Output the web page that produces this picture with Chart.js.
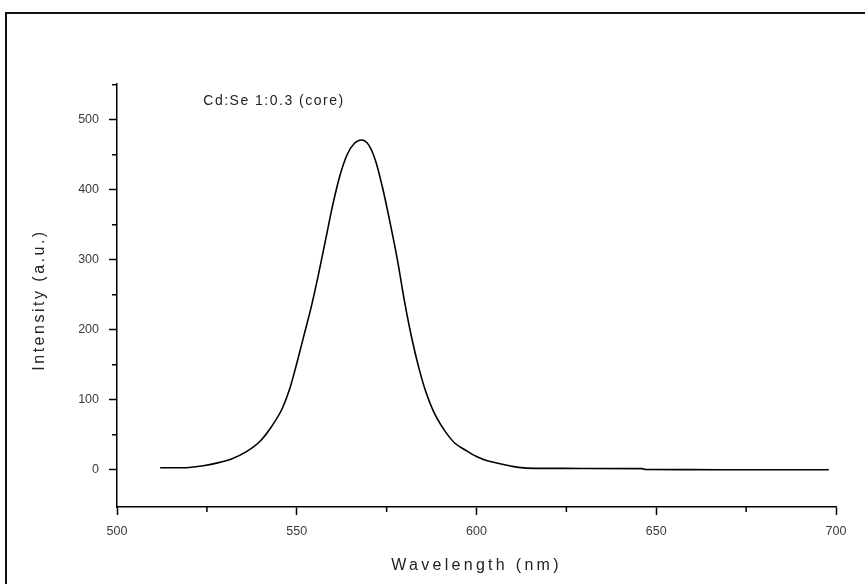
<!DOCTYPE html>
<html>
<head>
<meta charset="utf-8">
<title>Cd:Se 1:0.3 (core)</title>
<script src="https://cdn.jsdelivr.net/npm/chart.js@4.4.1/dist/chart.umd.min.js"></script>
<style>
html, body { margin: 0; padding: 0; background: #fff; overflow: hidden; }
#wrap { position: relative; width: 865px; height: 584px; }
#frame { position: absolute; left: 5px; top: 12px; width: 900px; height: 700px; border: 2px solid #111; }
</style>
</head>
<body>
<div id="wrap"><canvas id="pl" width="865" height="584"></canvas><div id="frame"></div></div>
<script>
// PL spectrum
var wavelength = [512, 516, 520, 524, 528, 532, 536, 540, 543, 546, 548, 550, 552, 554, 556, 558, 560, 562, 564, 566, 568, 570, 572, 574, 576, 578, 580, 582, 584, 586, 588, 590, 592, 594, 597, 600, 603, 606, 610, 614, 620, 630, 646, 647, 660, 680, 698];
var intensity  = [3, 3, 3.5, 6, 10, 16, 26, 42, 62, 88, 115, 152, 192, 232, 278, 328, 378, 420, 450, 466, 471, 464, 440, 400, 352, 300, 240, 188, 145, 110, 84, 65, 50, 38, 28, 19, 13, 9.5, 5, 2.5, 2.2, 2, 1.8, 0.5, 0.3, 0.2, 0.2];
var xTicks = [500, 550, 600, 650, 700];
var yTicks = [0, 100, 200, 300, 400, 500];
var sampleName = "Cd:Se 1:0.3 (core)";
var xTitle = "Wavelength (nm)";
var yTitle = "Intensity (a.u.)";

var fonts = "'Liberation Sans', Arial, sans-serif";

var points = wavelength.map(function(w, i) { return { x: w, y: intensity[i] }; });

// minor ticks, sample label and spaced axis titles
var extras = {
	id: 'extras',
	afterDraw: function(chart) {
		var ctx = chart.ctx, xs = chart.scales.x, ys = chart.scales.y, a = chart.chartArea;
		ctx.save();
		ctx.strokeStyle = '#000';
		ctx.lineWidth = 1.5;
		ctx.beginPath();
		for (var i = 0; i < xTicks.length - 1; i++) {
			var px = xs.getPixelForValue((xTicks[i] + xTicks[i + 1]) / 2);
			ctx.moveTo(px, a.bottom);
			ctx.lineTo(px, a.bottom + 5);
		}
		for (var j = 0; j < yTicks.length; j++) {
			var py = ys.getPixelForValue(yTicks[j] + 50);
			ctx.moveTo(a.left, py);
			ctx.lineTo(a.left - 5, py);
		}
		ctx.stroke();

		ctx.fillStyle = '#222';
		ctx.textBaseline = 'middle';
		ctx.textAlign = 'left';
		ctx.font = '14px ' + fonts;
		ctx.letterSpacing = '1.5px';
		ctx.fillText(sampleName, xs.getPixelForValue(524), ys.getPixelForValue(527));

		ctx.font = '16px ' + fonts;
		ctx.textAlign = 'center';
		ctx.letterSpacing = '3.3px';
		ctx.fillText(xTitle, (a.left + a.right) / 2, 566);

		ctx.letterSpacing = '2.5px';
		ctx.translate(40, 300);
		ctx.rotate(-Math.PI / 2);
		ctx.fillText(yTitle, 0, 0);
		ctx.restore();
	}
};

var axisGrid = {
	display: true,
	drawOnChartArea: false,
	drawTicks: true,
	tickLength: 8,
	tickColor: '#000',
	tickWidth: 1.5
};

new Chart(document.getElementById('pl').getContext('2d'), {
	type: 'line',
	data: {
		datasets: [{
			label: sampleName,
			data: points,
			borderColor: '#000',
			borderWidth: 1.6,
			pointRadius: 0,
			fill: false,
			cubicInterpolationMode: 'monotone'
		}]
	},
	options: {
		responsive: false,
		animation: false,
		layout: { padding: { top: 84, right: 29, left: 0, bottom: 0 } },
		plugins: { legend: { display: false }, tooltip: { enabled: false } },
		scales: {
			x: {
				type: 'linear',
				min: 500,
				max: 700,
				grid: axisGrid,
				border: { display: true, color: '#000', width: 1.5 },
				ticks: {
					padding: 9,
					color: '#3a3a3a',
					font: { family: fonts, size: 12.5 },
					maxRotation: 0
				},
				afterBuildTicks: function(s) { s.ticks = xTicks.map(function(v) { return { value: v }; }); },
				afterFit: function(s) { s.height = 77; }
			},
			y: {
				type: 'linear',
				min: -53,
				max: 551,
				grid: axisGrid,
				border: { display: true, color: '#000', width: 1.5 },
				ticks: {
					padding: 10,
					color: '#3a3a3a',
					font: { family: fonts, size: 12.5 }
				},
				afterBuildTicks: function(s) { s.ticks = yTicks.map(function(v) { return { value: v }; }); },
				afterFit: function(s) { s.width = 117; }
			}
		}
	},
	plugins: [extras]
});
</script>
</body>
</html>
